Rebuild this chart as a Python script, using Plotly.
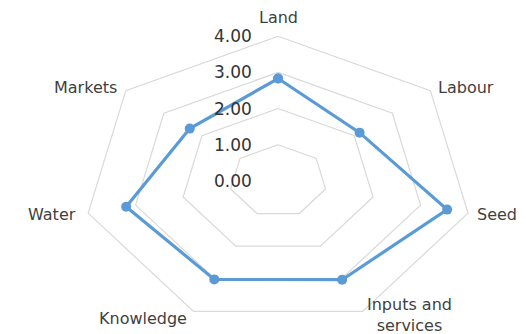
import numpy as np
import plotly.graph_objects as go

# Radar data
categories = ["Land", "Labour", "Seed", "Inputs and<br>services", "Knowledge", "Water", "Markets"]
scores = [2.83, 2.14, 3.56, 3.03, 3.02, 3.20, 2.32]
ring_values = [1, 2, 3, 4]
tick_labels = ["0.00", "1.00", "2.00", "3.00", "4.00"]
tick_values = [0, 1, 2, 3, 4]

LINE_BLUE = "#5B9BD5"
GRID = "#D9D9D9"
TEXT = "#3F3F3F"
FONT = "DejaVu Sans"

n = len(categories)
theta = 2 * np.pi * np.arange(n) / n  # clockwise from the top


def to_xy(values):
    v = np.asarray(values, dtype=float)
    return v * np.sin(theta), v * np.cos(theta)


fig = go.Figure()

# heptagonal grid rings
for rv in ring_values:
    gx, gy = to_xy([rv] * n)
    fig.add_trace(go.Scatter(
        x=np.append(gx, gx[0]), y=np.append(gy, gy[0]),
        mode="lines", line=dict(color=GRID, width=1.2),
        hoverinfo="skip", showlegend=False,
    ))

# data series
sx, sy = to_xy(scores)
fig.add_trace(go.Scatter(
    x=np.append(sx, sx[0]), y=np.append(sy, sy[0]),
    mode="lines+markers",
    line=dict(color=LINE_BLUE, width=3.2),
    marker=dict(color=LINE_BLUE, size=10),
    showlegend=False,
))

# radial tick labels, right-aligned beside the vertical axis
for tv, tl in zip(tick_values, tick_labels):
    fig.add_annotation(
        x=0, y=tv, text=tl, showarrow=False,
        xanchor="right", yanchor="middle", xshift=-24,
        font=dict(family=FONT, size=17, color="#333333"),
    )

# category labels placed just outside the outer ring
label_shift = {
    0: dict(xanchor="center", yanchor="bottom", xshift=0, yshift=7),
    1: dict(xanchor="left", yanchor="middle", xshift=6, yshift=3),
    2: dict(xanchor="left", yanchor="middle", xshift=7, yshift=-1),
    3: dict(xanchor="left", yanchor="middle", xshift=2, yshift=-4),
    4: dict(xanchor="right", yanchor="middle", xshift=-5, yshift=-7),
    5: dict(xanchor="right", yanchor="middle", xshift=-10, yshift=-1),
    6: dict(xanchor="right", yanchor="middle", xshift=-7, yshift=3),
}
ox, oy = to_xy([max(ring_values)] * n)
for i, cat in enumerate(categories):
    fig.add_annotation(
        x=ox[i], y=oy[i], text=cat, showarrow=False, align="center",
        font=dict(family=FONT, size=16, color=TEXT),
        **label_shift[i],
    )

fig.update_layout(
    width=526, height=334,
    margin=dict(l=0, r=0, t=0, b=0),
    paper_bgcolor="white", plot_bgcolor="white",
    xaxis=dict(range=[-5.71, 5.09], visible=False, fixedrange=True),
    yaxis=dict(range=[-4.23, 5.0], visible=False, fixedrange=True),
)

fig.write_html("out.html")
